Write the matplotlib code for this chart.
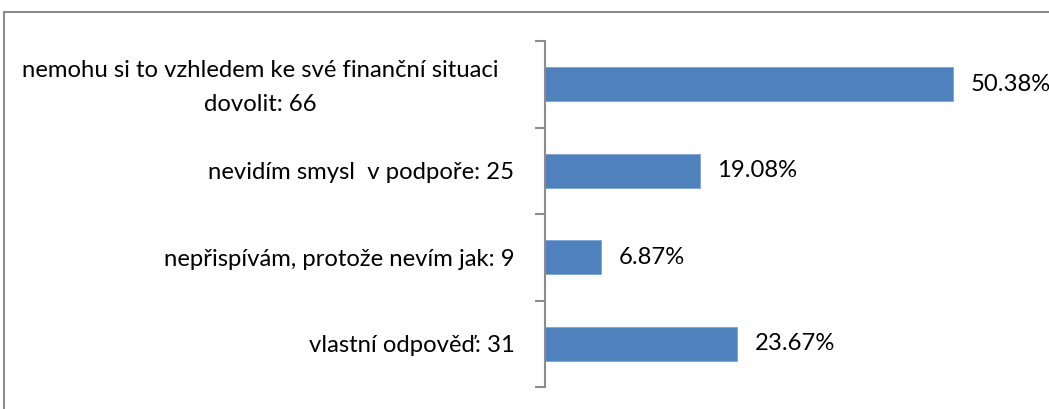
import matplotlib
matplotlib.use("Agg")
import matplotlib.pyplot as plt
from matplotlib.patches import Rectangle
from matplotlib.transforms import ScaledTranslation

categories = [
    "nemohu si to vzhledem ke své finanční situaci\ndovolit",
    "nevidím smysl  v podpoře",
    "nepřispívám, protože nevím jak",
    "vlastní odpověď",
]
counts = [66, 25, 9, 31]
percents = [50.38, 19.08, 6.87, 23.67]

plt.rcParams['font.family'] = ['Lato', 'DejaVu Sans']

fig = plt.figure(figsize=(10.49, 4.09), dpi=100)
# outer chart frame (cut off on the right and bottom)
fig.patches.append(Rectangle((4 / 1049, -0.1), 1.2, 1.1 - 12 / 409,
                             transform=fig.transFigure, fill=False,
                             edgecolor="#8c8c8c", linewidth=1.5))

ax = fig.add_axes([545 / 1049, 22 / 409, 504 / 1049, 346 / 409])
pos = list(range(len(categories)))
ax.barh(pos, percents, height=0.39, color="#4F81BD", edgecolor="#7ea3d3", linewidth=0.6)

# the last percentage runs off the right edge, as in the original
for p, v in zip(pos, percents):
    ax.text(v + 2.2, p, "%.2f%%" % v, va="center", ha="left", fontsize=17.2, color="black")

labels = ["%s: %d" % (c, n) for c, n in zip(categories, counts)]
ax.set_yticks(pos)
ax.set_yticklabels(labels, fontsize=17.2, ha="right", multialignment="center", linespacing=1.75)
ax.tick_params(axis="y", which="major", length=0, pad=22)
ax.set_yticks([p - 0.5 for p in pos] + [pos[-1] + 0.5], minor=True)
ax.tick_params(axis="y", which="minor", length=7, width=1.5, color="#8c8c8c", direction="out")
ax.set_ylim(pos[-1] + 0.5, pos[0] - 0.5)
ax.set_xlim(0, 62.2)
ax.set_xticks([])
for s in ["top", "right", "bottom"]:
    ax.spines[s].set_visible(False)
ax.spines["left"].set_color("#8c8c8c")
ax.spines["left"].set_linewidth(1.5)

# the wrapped label sits a bit further from the axis
first = ax.get_yticklabels()[0]
first.set_transform(first.get_transform() + ScaledTranslation(-0.16, 0.05, fig.dpi_scale_trans))

fig.savefig("out.png", dpi=100, facecolor="white")
